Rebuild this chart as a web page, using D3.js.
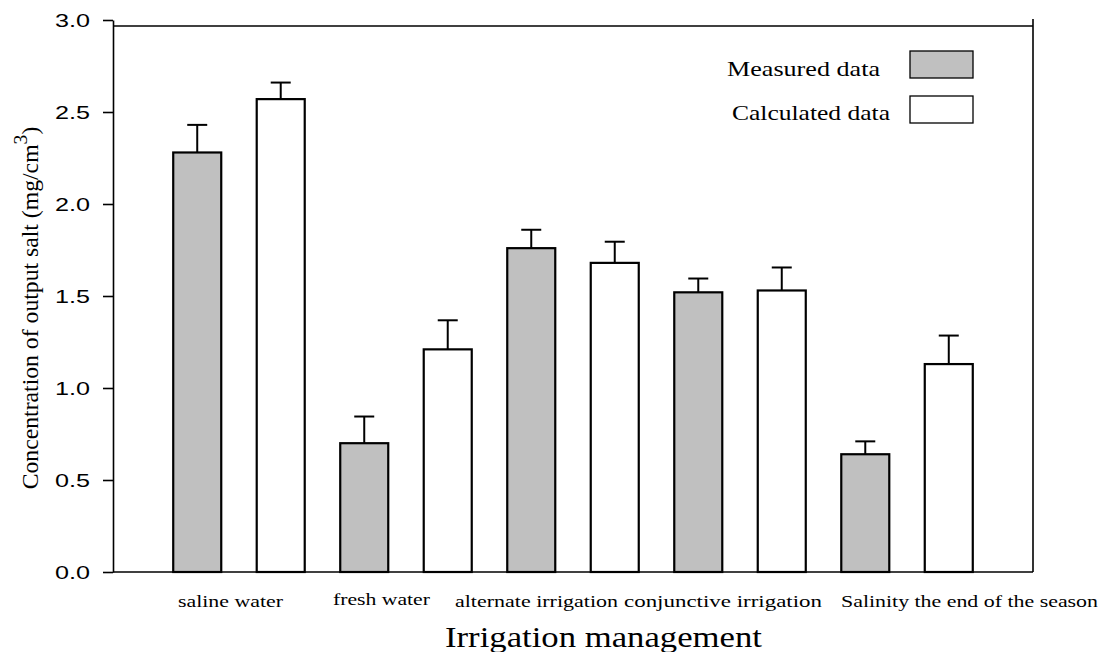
<!DOCTYPE html>
<html>
<head>
<meta charset="utf-8">
<script src="https://cdn.jsdelivr.net/npm/d3@7"></script>
<style>
  body { margin: 0; background: #fff; }
  svg { display: block; }
</style>
</head>
<body>
<div id="draw"></div>
<script>
var categories = ["saline water", "fresh water", "alternate irrigation", "conjunctive irrigation", "Salinity the end of the season"];
var seriesNames = ["Measured data", "Calculated data"];
var measured = [2.28, 0.70, 1.76, 1.52, 0.64];
var measuredErr = [0.15, 0.145, 0.10, 0.075, 0.07];
var calculated = [2.57, 1.21, 1.68, 1.53, 1.13];
var calculatedErr = [0.09, 0.158, 0.115, 0.125, 0.155];
var yTicks = [0, 0.5, 1.0, 1.5, 2.0, 2.5, 3.0];

// label placement (left x, width, baseline)
var labelLayout = [
    { x: 178, w: 105, y: 607 },
    { x: 333, w: 97, y: 605 },
    { x: 455, w: 163, y: 607 },
    { x: 624, w: 198, y: 607 },
    { x: 841, w: 257, y: 607 }
];

var svgW = 1109, svgH = 652;
var plotLeft = 113, plotRight = 1033, plotTop = 20, plotBottom = 572;

var svg = d3.select('#draw').append('svg')
    .attr('width', svgW).attr('height', svgH);

var x = d3.scaleBand().domain(categories).range([plotLeft, plotRight])
    .paddingInner(0.2006).paddingOuter(0.3546);
var xs = d3.scaleBand().domain(seriesNames).range([0, x.bandwidth()])
    .paddingInner(0.401).paddingOuter(0);
var y = d3.scaleLinear().domain([0, 3]).range([plotBottom, plotTop]);
var fill = d3.scaleOrdinal().domain(seriesNames).range(["#c0c0c0", "#ffffff"]);

var rows = [];
categories.forEach(function(c, i){
    rows.push({ cat: c, s: seriesNames[0], v: measured[i], e: measuredErr[i] });
    rows.push({ cat: c, s: seriesNames[1], v: calculated[i], e: calculatedErr[i] });
});

// error bars (upper only)
var eb = svg.append('g').attr('stroke', '#000').attr('stroke-width', 2);
rows.forEach(function(d){
    var cx = x(d.cat) + xs(d.s) + xs.bandwidth() / 2;
    eb.append('line').attr('x1', cx).attr('x2', cx)
        .attr('y1', y(d.v)).attr('y2', y(d.v + d.e));
    eb.append('line').attr('x1', cx - 10).attr('x2', cx + 10)
        .attr('y1', y(d.v + d.e)).attr('y2', y(d.v + d.e));
});

// bars
svg.append('g').selectAll('rect')
    .data(rows).enter().append('rect')
    .attr('x', function(d){ return x(d.cat) + xs(d.s) + 1; })
    .attr('y', function(d){ return y(d.v); })
    .attr('width', xs.bandwidth() - 2)
    .attr('height', function(d){ return y(0) - y(d.v); })
    .attr('fill', function(d){ return fill(d.s); })
    .attr('stroke', '#000').attr('stroke-width', 2.2);

// frame
var frame = svg.append('g').attr('stroke', '#000').attr('stroke-width', 1.6).attr('fill', 'none');
frame.append('line').attr('x1', plotLeft).attr('x2', plotRight).attr('y1', 26).attr('y2', 26);
frame.append('line').attr('x1', plotRight).attr('x2', plotRight).attr('y1', plotTop - 1).attr('y2', plotBottom);
frame.append('line').attr('x1', plotLeft).attr('x2', plotRight).attr('y1', plotBottom).attr('y2', plotBottom);

// y axis
var yAxis = svg.append('g').attr('transform', 'translate(' + plotLeft + ',0)')
    .call(d3.axisLeft(y).tickValues(yTicks).tickFormat(d3.format('.1f')).tickSize(10).tickSizeOuter(0).tickPadding(13));
yAxis.select('.domain').attr('stroke-width', 1.6);
yAxis.selectAll('.tick line').attr('stroke-width', 1.6);
yAxis.selectAll('.tick text')
    .attr('font-family', '"Liberation Sans", Arial, sans-serif')
    .attr('font-size', 19).attr('fill', '#000')
    .attr('textLength', 35).attr('lengthAdjust', 'spacingAndGlyphs');

// category labels
svg.append('g').selectAll('text')
    .data(categories).enter().append('text')
    .attr('x', function(d, i){ return labelLayout[i].x; })
    .attr('y', function(d, i){ return labelLayout[i].y; })
    .attr('textLength', function(d, i){ return labelLayout[i].w; })
    .attr('lengthAdjust', 'spacingAndGlyphs')
    .attr('font-family', '"Liberation Serif", "Times New Roman", serif')
    .attr('font-size', 16.5)
    .text(function(d){ return d; });

// x title
svg.append('text').attr('x', 445).attr('y', 647)
    .attr('textLength', 317).attr('lengthAdjust', 'spacingAndGlyphs')
    .attr('font-family', '"Liberation Serif", "Times New Roman", serif')
    .attr('font-size', 30).text('Irrigation management');

// y title
var yt = svg.append('text')
    .attr('font-family', '"Liberation Serif", "Times New Roman", serif')
    .attr('font-size', 20.5).attr('text-anchor', 'middle');
yt.append('tspan').text('Concentration of output salt (mg/cm');
yt.append('tspan').attr('dy', -10).attr('font-size', 17).text('3');
yt.append('tspan').attr('dy', 10).text(')');
var L = yt.node().getComputedTextLength();
yt.attr('transform', 'translate(38,308) scale(1.15,1) rotate(-90) scale(' + (363 / L) + ',1)');

// legend
var legendLayout = [
    { tx: 880, ty: 76, by: 51 },
    { tx: 890, ty: 120, by: 96 }
];
var lg = svg.append('g');
seriesNames.forEach(function(s, i){
    lg.append('text').attr('x', legendLayout[i].tx).attr('y', legendLayout[i].ty)
        .attr('text-anchor', 'end')
        .attr('font-family', '"Liberation Serif", "Times New Roman", serif')
        .attr('font-size', 21)
        .attr('textLength', i === 0 ? 153 : 158).attr('lengthAdjust', 'spacingAndGlyphs')
        .text(s);
    lg.append('rect').attr('x', 910).attr('y', legendLayout[i].by)
        .attr('width', 63).attr('height', 27)
        .attr('fill', fill(s)).attr('stroke', '#000').attr('stroke-width', 1.3);
});
</script>
</body>
</html>
